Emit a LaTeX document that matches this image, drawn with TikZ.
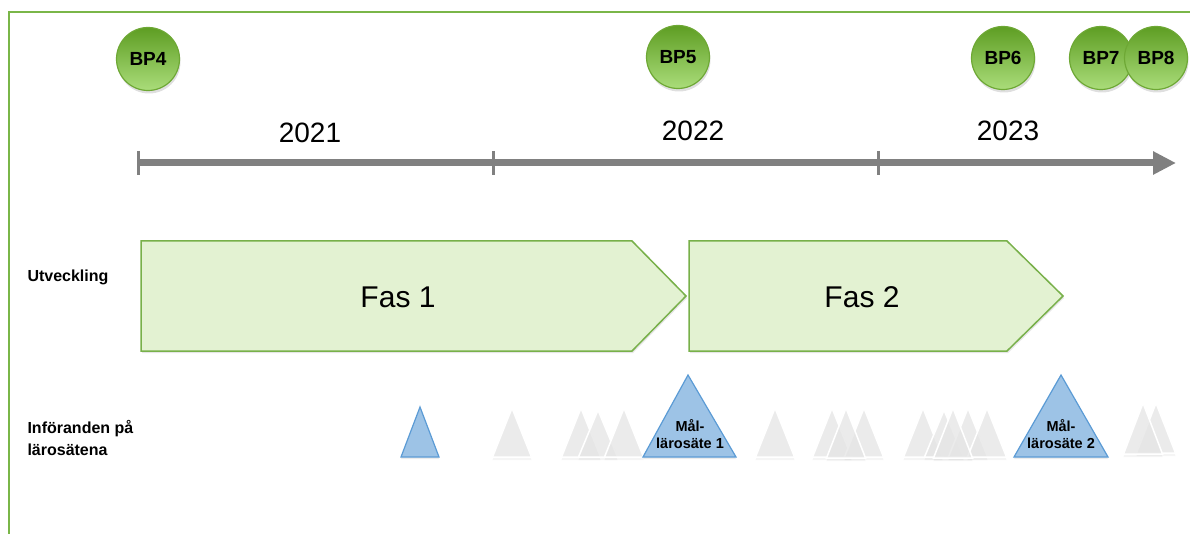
\documentclass[tikz,border=0pt]{standalone}
\usepackage{fontspec}
\setmainfont{Liberation Sans}
\usetikzlibrary{arrows.meta,shadows}
\definecolor{framegreen}{HTML}{7AB648}
\definecolor{bpdark}{HTML}{5E9E23}
\definecolor{bplight}{HTML}{AADC7A}
\definecolor{bpedge}{HTML}{6EA835}
\definecolor{fasfill}{HTML}{E3F2D2}
\definecolor{fasedge}{HTML}{78B04A}
\definecolor{trifill}{HTML}{9DC3E6}
\definecolor{triedge}{HTML}{5B9BD5}
\definecolor{axisgray}{HTML}{808080}
\begin{document}
\begin{tikzpicture}[x=1pt,y=-1pt,
		bp/.style={circle, minimum size=63pt, inner sep=0pt, draw=bpedge, line width=1.2pt, top color=bpdark, bottom color=bplight, drop shadow={opacity=0.25, shadow xshift=1pt, shadow yshift=-3pt}, font=\bfseries\fontsize{19}{21}\selectfont},
		year/.style={font=\fontsize{28}{30}\selectfont},
		fas/.style={fill=fasfill, draw=fasedge, line width=1.5pt, drop shadow={opacity=0.2, shadow xshift=1pt, shadow yshift=-2pt}},
		rowlabel/.style={anchor=west, align=left, font=\bfseries\fontsize{16}{22}\selectfont},
		greytri/.style={fill=black!9, fill opacity=0.75, draw=white, line width=1.5pt, drop shadow={opacity=0.08, shadow xshift=0pt, shadow yshift=-3pt}},
		bluetri/.style={fill=trifill, draw=triedge, line width=1.2pt, drop shadow={opacity=0.15, shadow xshift=0pt, shadow yshift=-2pt}},
		maltext/.style={align=center, font=\bfseries\fontsize{14.5}{17}\selectfont},
		tick/.style={draw=axisgray, line width=3pt}]
	\useasboundingbox (0,0) rectangle (1190,534);
	\draw[framegreen, line width=2pt] (9,534) -- (9,12) -- (1190,12);
	\coordinate (axstart) at (138,163);
	\coordinate (axend) at (1176,163);
	\draw[axisgray, line width=7pt, -{Triangle[length=23pt,width=22pt]}] (axstart) -- (axend);
	\draw[tick] (138,151) -- (138,175);
	\draw[tick] (493,151) -- (493,175);
	\draw[tick] (878,151) -- (878,175);
	\node[year] (y2021) at (310,133) {2021};
	\node[year] (y2022) at (693,131) {2022};
	\node[year] (y2023) at (1008,131) {2023};
	\node[bp] (bp4) at (148,59) {BP4};
	\node[bp] (bp5) at (678,57) {BP5};
	\node[bp] (bp6) at (1003,58) {BP6};
	\node[bp] (bp7) at (1101,58) {BP7};
	\node[bp] (bp8) at (1156,58) {BP8};
	\draw[fas] (141,241) -- (632,241) -- (686,296) -- (632,351) -- (141,351) -- cycle;
	\draw[fas] (689,241) -- (1007,241) -- (1063,296) -- (1007,351) -- (689,351) -- cycle;
	\node[font=\fontsize{30}{32}\selectfont] (fas1) at (398,297) {Fas 1};
	\node[font=\fontsize{30}{32}\selectfont] (fas2) at (862,297) {Fas 2};
	\node[rowlabel] (utv) at (24,277) {Utveckling};
	\node[rowlabel] (inf) at (24,438) {Införanden på\\lärosätena};
	\foreach \x/\yt/\yb in {512/408/457, 581/408/457, 598/410/457, 624/408/457, 775/408/457, 832/408/457, 864/408/457, 846/408/458, 923/408/457, 944/410/457, 968/408/457, 987/408/457, 953/408/458, 1156/403/453, 1143/403/454}
		\draw[greytri] (\x,\yt) -- ({\x+19.5},\yb) -- ({\x-19.5},\yb) -- cycle;
	\draw[bluetri] (420,407) -- (439,457) -- (401,457) -- cycle;
	\draw[bluetri] (688,375) -- (736,457) -- (643,457) -- cycle;
	\draw[bluetri] (1061,375) -- (1108,457) -- (1014,457) -- cycle;
	\node[maltext] (mal1) at (690,434) {Mål-\\lärosäte 1};
	\node[maltext] (mal2) at (1061,434) {Mål-\\lärosäte 2};
\end{tikzpicture}
\end{document}
